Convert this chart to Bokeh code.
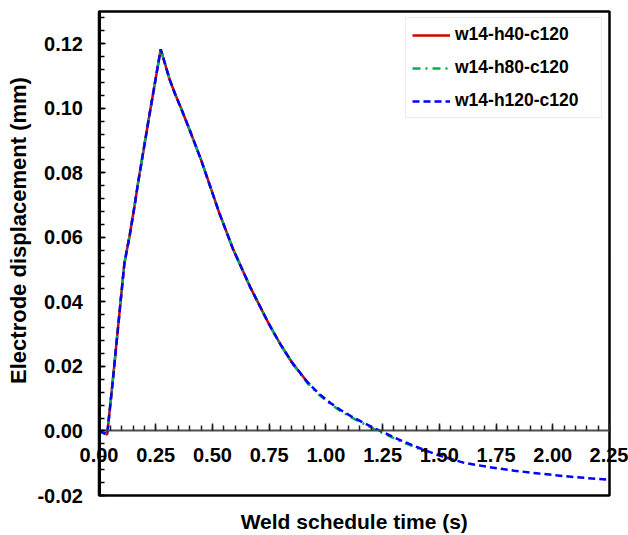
import math
from bokeh.plotting import figure
from bokeh.models import (Range1d, LinearAxis, SingleIntervalTicker,
                          NumeralTickFormatter, Legend, LegendItem, Label)
from bokeh.embed import file_html
from bokeh.resources import INLINE

# ---- data ----
t_h120 = [0.000, 0.036, 0.060, 0.095, 0.112, 0.135, 0.155, 0.172, 0.220, 0.272,
          0.290, 0.312, 0.335, 0.360, 0.400, 0.450, 0.490, 0.530, 0.590, 0.667,
          0.750, 0.800, 0.850, 0.920, 0.975, 1.020, 1.060, 1.110, 1.150, 1.210,
          1.280, 1.330, 1.430, 1.500, 1.610, 1.720, 1.830, 1.940, 2.050, 2.150,
          2.250]
d_h120 = [0.0000, -0.0011, 0.0150, 0.0400, 0.0520, 0.0605, 0.0690, 0.0768, 0.0970, 0.1183,
          0.1140, 0.1088, 0.1045, 0.1003, 0.0932, 0.0840, 0.0758, 0.0676, 0.0565, 0.0445,
          0.0330, 0.0268, 0.0213, 0.0150, 0.0112, 0.0087, 0.0067, 0.0046, 0.0031, 0.0010,
          -0.0013, -0.0029, -0.0058, -0.0076, -0.0099, -0.0112, -0.0123, -0.0132, -0.0140, -0.0146,
          -0.0151]

t_h80 = [0.000, 0.036, 0.060, 0.095, 0.112, 0.135, 0.155, 0.172, 0.220, 0.272,
         0.290, 0.312, 0.335, 0.360, 0.400, 0.450, 0.490, 0.530, 0.590, 0.667,
         0.750, 0.800, 0.850, 0.920, 0.975, 1.020, 1.060, 1.110, 1.150, 1.210,
         1.280, 1.330, 1.430, 1.450]
d_h80 = [0.0000, -0.0011, 0.0150, 0.0400, 0.0520, 0.0605, 0.0690, 0.0768, 0.0970, 0.1183,
         0.1140, 0.1088, 0.1045, 0.1003, 0.0932, 0.0840, 0.0758, 0.0676, 0.0565, 0.0445,
         0.0330, 0.0268, 0.0211, 0.0147, 0.0109, 0.0084, 0.0064, 0.0043, 0.0028, 0.0007,
         -0.0016, -0.0032, -0.0061, -0.0066]

t_h40 = [0.000, 0.036, 0.060, 0.095, 0.112, 0.135, 0.155, 0.172, 0.220, 0.272,
         0.290, 0.312, 0.335, 0.360, 0.400, 0.450, 0.490, 0.530, 0.590, 0.667,
         0.750, 0.800, 0.850, 0.920, 0.930]
d_h40 = [0.0000, -0.0011, 0.0150, 0.0400, 0.0520, 0.0605, 0.0690, 0.0768, 0.0970, 0.1183,
         0.1140, 0.1088, 0.1045, 0.1003, 0.0932, 0.0840, 0.0758, 0.0676, 0.0565, 0.0445,
         0.0330, 0.0268, 0.0213, 0.0150, 0.0144]

labels = ["w14-h40-c120", "w14-h80-c120", "w14-h120-c120"]
x_title = "Weld schedule time (s)"
y_title = "Electrode displacement (mm)"

# axis limits
X_MIN, X_MAX = 0.0, 2.25
Y_MIN, Y_MAX = -0.02, 0.13

# ---- layout (pixels) ----
W, H = 628, 535
PL, PR, PT, PB = 98.5, 609.0, 11.0, 495.0     # plot box edges
SX = (PR - PL) / (X_MAX - X_MIN)
SY = (PB - PT) / (Y_MAX - Y_MIN)


def px_x(px):
    return X_MIN + (px - PL) / SX


def px_y(py):
    return Y_MAX - (py - PT) / SY


FONT = "Liberation Sans"

p = figure(width=W, height=H, output_backend="svg", toolbar_location=None,
           x_axis_type=None, y_axis_type=None,
           x_range=Range1d(px_x(0), px_x(W)), y_range=Range1d(px_y(H), px_y(0)),
           min_border=0, min_border_left=0, min_border_right=0,
           min_border_top=0, min_border_bottom=0,
           background_fill_color="white", border_fill_color="white")
p.outline_line_color = None

# x axis crossing at y = 0
xax = LinearAxis(fixed_location=0, bounds=(X_MIN, X_MAX),
                 ticker=SingleIntervalTicker(interval=0.25, num_minor_ticks=5),
                 formatter=NumeralTickFormatter(format="0.00"))
xax.axis_line_color = "#4d4d4d"
xax.axis_line_width = 2
xax.major_tick_line_color = "#202020"
xax.minor_tick_line_color = "#202020"
xax.major_tick_line_width = 1.5
xax.minor_tick_line_width = 1.5
xax.major_tick_in = 7
xax.major_tick_out = 0
xax.minor_tick_in = 5
xax.minor_tick_out = 0
xax.major_label_standoff = 17
xax.major_label_text_font = FONT
xax.major_label_text_font_style = "bold"
xax.major_label_text_font_size = "20px"
xax.major_label_text_color = "black"
p.add_layout(xax, "below")

# y axis on the left edge of the box
yax = LinearAxis(fixed_location=X_MIN, bounds=(Y_MIN, Y_MAX),
                 ticker=SingleIntervalTicker(interval=0.02, num_minor_ticks=5),
                 formatter=NumeralTickFormatter(format="0.00"))
yax.axis_line_color = "black"
yax.axis_line_width = 3
yax.major_tick_line_color = "black"
yax.minor_tick_line_color = "black"
yax.major_tick_in = 6
yax.major_tick_out = 0
yax.minor_tick_in = 5
yax.minor_tick_out = 0
yax.major_tick_line_width = 1.5
yax.minor_tick_line_width = 1.5
yax.major_label_standoff = 16
yax.major_label_text_font = FONT
yax.major_label_text_font_style = "bold"
yax.major_label_text_font_size = "20px"
yax.major_label_text_color = "black"
p.add_layout(yax, "left")

# data
r1 = p.line(t_h40, d_h40, line_color="#d00000", line_width=2.5)
r2 = p.line(t_h80, d_h80, line_color="#00b050", line_width=2.5, line_dash="8 5 2 5")
r3 = p.line(t_h120, d_h120, line_color="#0000ff", line_width=2.5, line_dash="7 4")

# plot box
p.quad(left=[X_MIN], right=[X_MAX], bottom=[Y_MIN], top=[Y_MAX],
       fill_color=None, line_color="black", line_width=2.5)

# axis titles
p.add_layout(Label(x=(X_MIN + X_MAX) / 2, y=px_y(521), text=x_title,
                   text_align="center", text_baseline="middle",
                   text_font=FONT, text_font_style="bold",
                   text_font_size="21px", text_color="black"))
p.add_layout(Label(x=px_x(18), y=px_y(230), text=y_title, angle=math.pi / 2,
                   text_align="center", text_baseline="middle",
                   text_font=FONT, text_font_style="bold",
                   text_font_size="22px", text_color="black"))

legend = Legend(items=[LegendItem(label=labels[0], renderers=[r1]),
                       LegendItem(label=labels[1], renderers=[r2]),
                       LegendItem(label=labels[2], renderers=[r3])],
                location=(405, 417))
legend.margin = 0
legend.padding = 6
legend.spacing = 12
legend.glyph_width = 38
legend.glyph_height = 16
legend.label_height = 16
legend.label_width = 140
legend.label_standoff = 5
legend.label_text_font = FONT
legend.label_text_font_style = "bold"
legend.label_text_font_size = "17.5px"
legend.label_text_color = "black"
legend.border_line_color = "#d9d9d9"
legend.border_line_width = 1.5
legend.background_fill_color = "white"
legend.background_fill_alpha = 1.0
p.add_layout(legend)

open("out.html", "w").write(file_html(p, INLINE))
